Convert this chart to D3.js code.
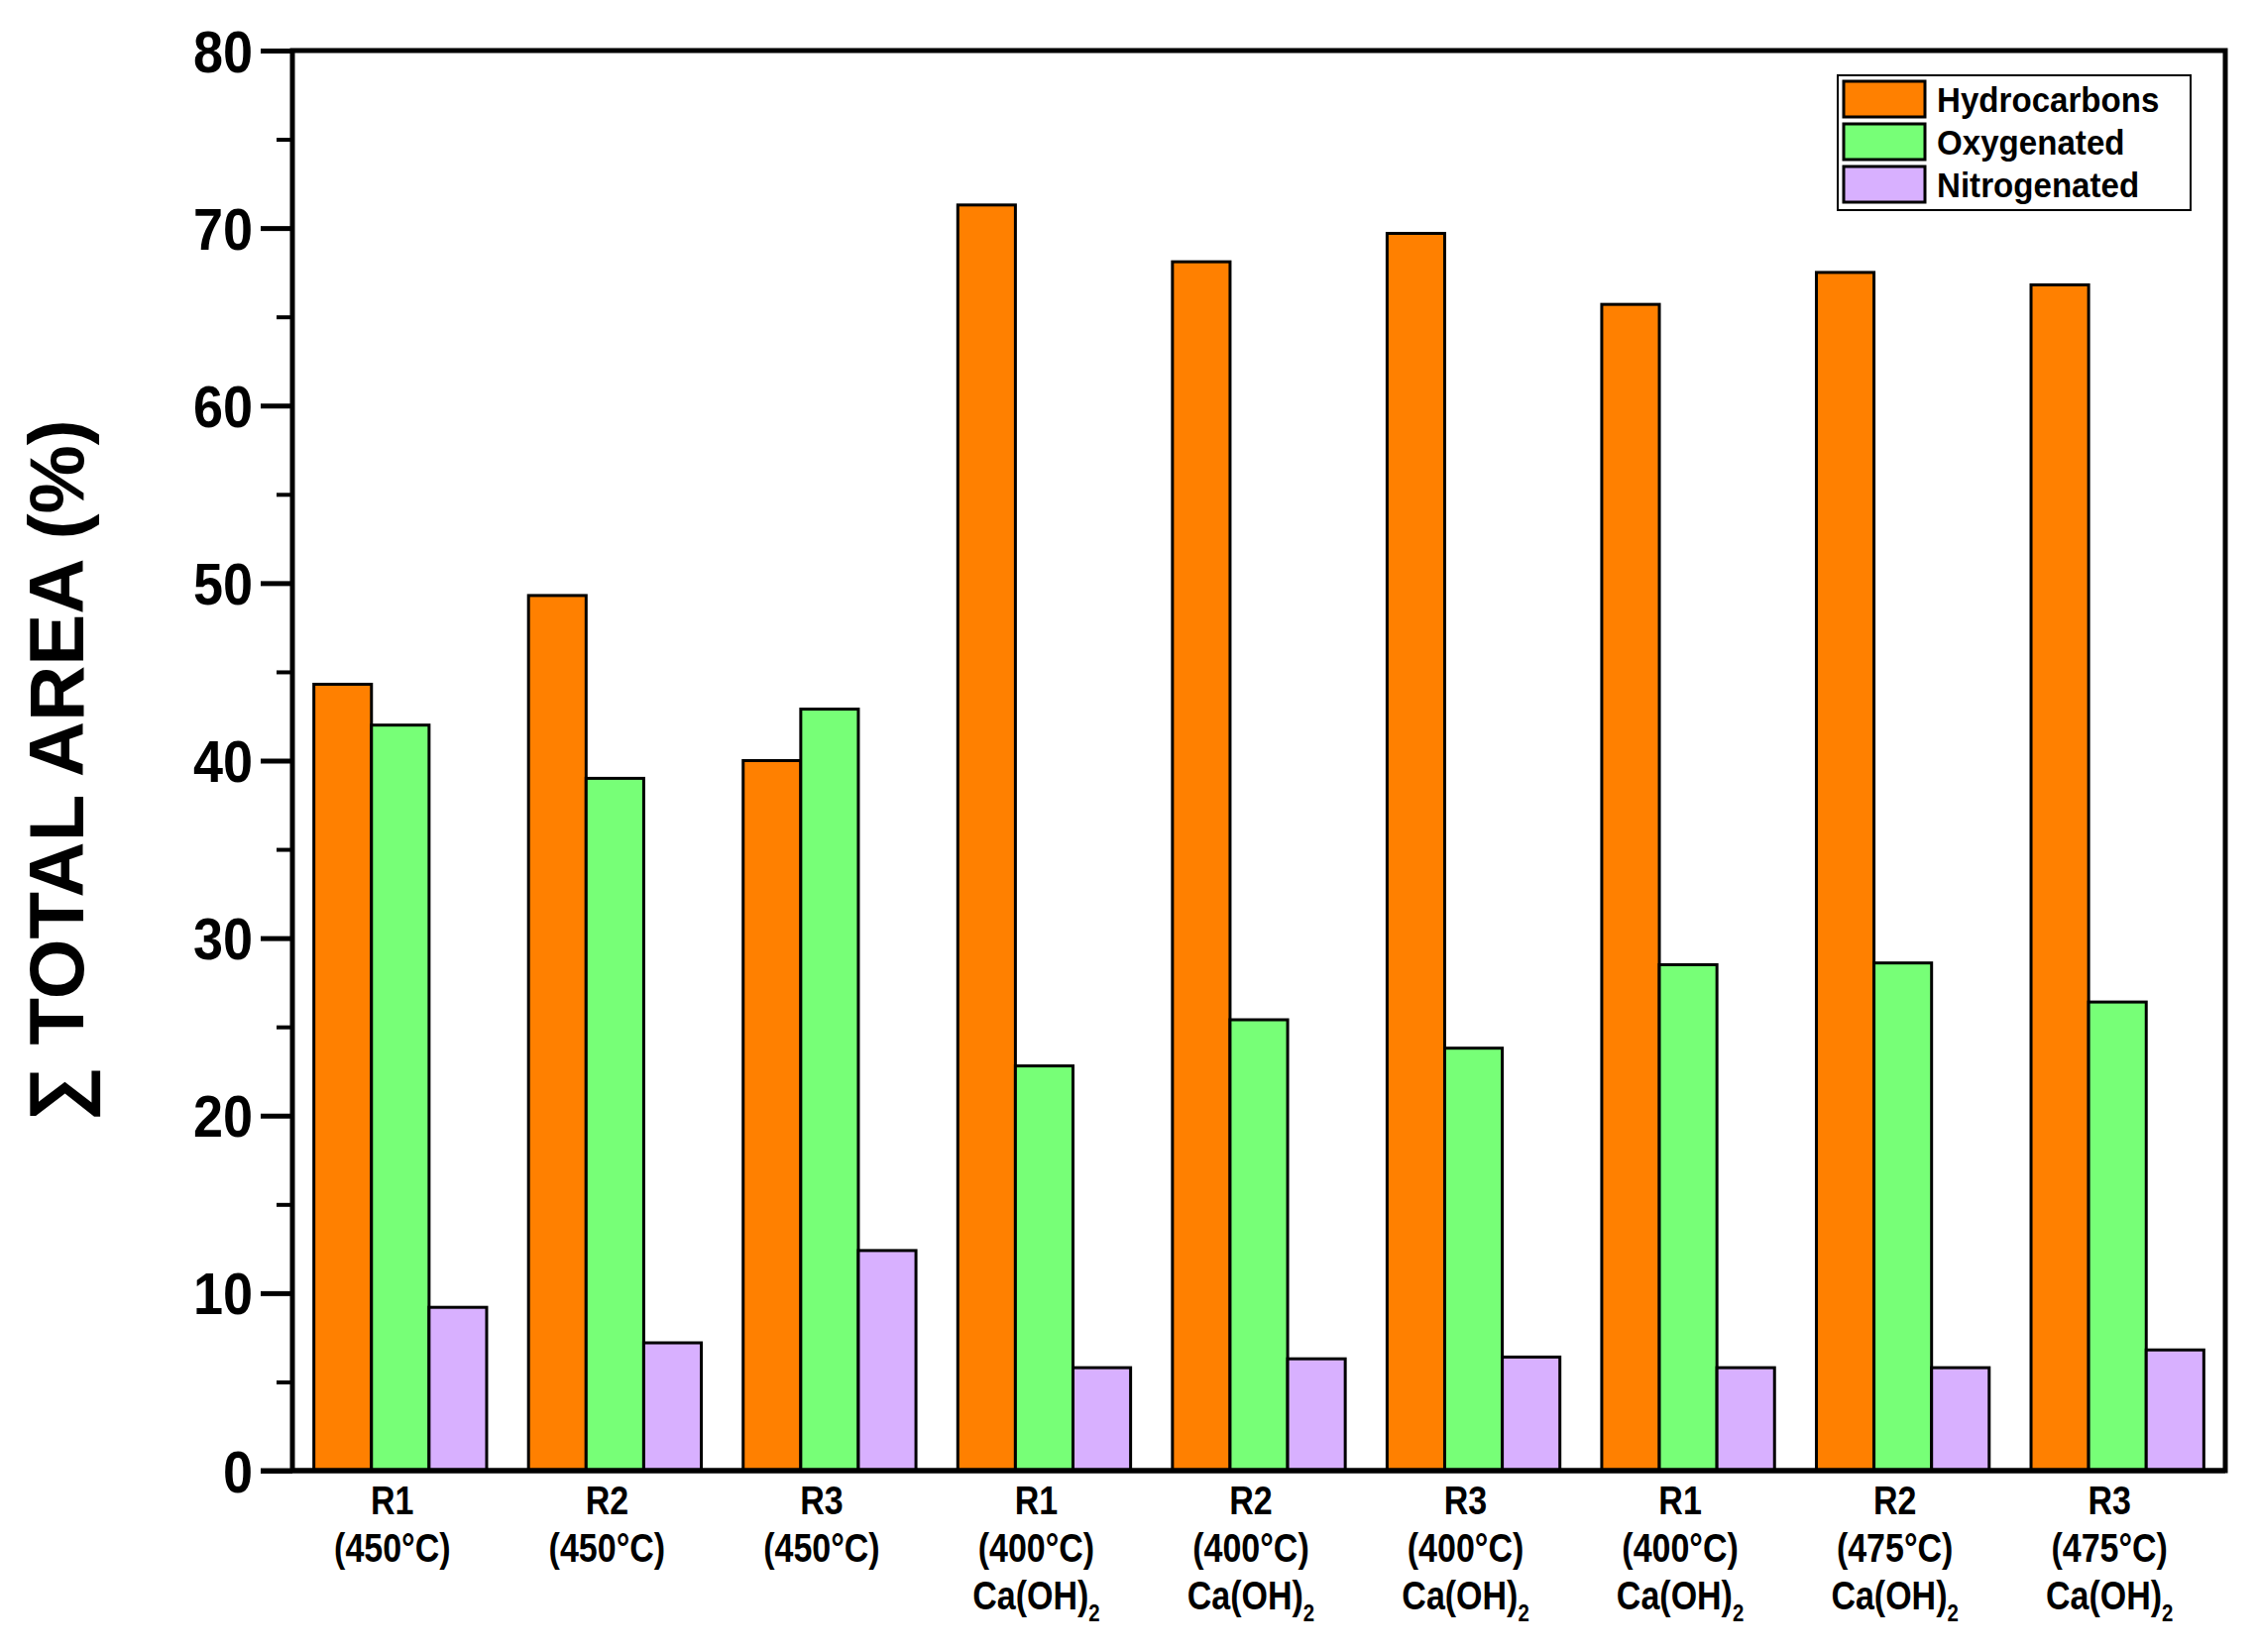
<!DOCTYPE html><html><head><meta charset="utf-8">
<script src="https://cdn.jsdelivr.net/npm/d3@7"></script>
<style>body{margin:0;background:#fff}</style></head><body>
<svg id="c" width="2278" height="1667"></svg>
<script>
const categories=["R1|(450°C)","R2|(450°C)","R3|(450°C)","R1|(400°C)|Ca(OH)2","R2|(400°C)|Ca(OH)2","R3|(400°C)|Ca(OH)2","R1|(400°C)|Ca(OH)2","R2|(475°C)|Ca(OH)2","R3|(475°C)|Ca(OH)2"];
const hydrocarbons=[44.3,49.3,40.0,71.3,68.1,69.7,65.7,67.5,66.8];
const oxygenated=[42.0,39.0,42.9,22.8,25.4,23.8,28.5,28.6,26.4];
const nitrogenated=[9.2,7.2,12.4,5.8,6.3,6.4,5.8,5.8,6.8];
const seriesNames=["Hydrocarbons","Oxygenated","Nitrogenated"];
const colors=["#FF8000","#77FF77","#D8B0FF"];
const yTicks=[0,10,20,30,40,50,60,70,80];
const series=[hydrocarbons,oxygenated,nitrogenated];
const svg=d3.select("#c");
const L=295,R=2245,T=51,B=1484;
const font="'Liberation Sans',Arial,sans-serif";
const x=d3.scaleBand().domain(d3.range(categories.length)).range([L,R]).paddingInner(0.195).paddingOuter(0.1);
const xs=d3.scaleBand().domain(d3.range(3)).range([0,x.bandwidth()]);
const y=d3.scaleLinear().domain([0,80]).range([B,T]);
const g=svg.append("g");
categories.forEach((c,i)=>{series.forEach((s,j)=>{
 g.append("rect").attr("x",x(i)+xs(j)).attr("y",y(s[i])).attr("width",xs.bandwidth()).attr("height",y(0)-y(s[i]))
  .attr("fill",colors[j]).attr("stroke","#000").attr("stroke-width",3);});});
svg.append("rect").attr("x",L).attr("y",T).attr("width",R-L).attr("height",B-T).attr("fill","none").attr("stroke","#000").attr("stroke-width",5);
const ya=d3.axisLeft(y).tickValues(yTicks).tickSize(32).tickPadding(8).tickFormat(d3.format("d"));
const yg=svg.append("g").attr("transform",`translate(${L},0)`).call(ya);
yg.select(".domain").remove();
yg.selectAll("line").attr("stroke-width",5);
yg.selectAll("text").attr("font-family",font).attr("font-weight","bold").attr("font-size",60).attr("dy","0.35em")
  .attr("transform",function(){const tx=+d3.select(this).attr("x");return `translate(${tx},0) scale(0.9,1) translate(${-tx},0)`;});
const ym=d3.axisLeft(y).tickValues(d3.range(5,80,10)).tickSize(16).tickFormat("");
const ymg=svg.append("g").attr("transform",`translate(${L},0)`).call(ym);
ymg.select(".domain").remove();ymg.selectAll("line").attr("stroke-width",4);
svg.append("line").attr("x1",L-32).attr("x2",R).attr("y1",B).attr("y2",B).attr("stroke","#000").attr("stroke-width",5);
categories.forEach((c,i)=>{
 const cx=x(i)+x.bandwidth()/2-8;
 c.split("|").forEach((ln,k)=>{
  const t=svg.append("text").attr("x",cx).attr("y",B+44+k*48).attr("text-anchor","middle")
   .attr("font-family",font).attr("font-weight","bold").attr("font-size",40).attr("transform",`translate(${cx},0) scale(0.85,1) translate(${-cx},0)`);
  if(ln.startsWith("Ca")){t.append("tspan").text("Ca(OH)");t.append("tspan").attr("font-size",24).attr("dy",12).text("2");}
  else t.text(ln);
 });
});
svg.append("text").attr("transform",`translate(84,${(T+B)/2+10}) rotate(-90)`).attr("text-anchor","middle")
 .attr("font-family",font).attr("font-weight","bold").attr("font-size",78).text("∑ TOTAL  AREA (%)");
const lg=svg.append("g").attr("transform","translate(1854,76)");
lg.append("rect").attr("width",356).attr("height",136).attr("fill","#fff").attr("stroke","#000").attr("stroke-width",2);
seriesNames.forEach((n,j)=>{
 lg.append("rect").attr("x",6).attr("y",6+j*43).attr("width",82).attr("height",36).attr("fill",colors[j]).attr("stroke","#000").attr("stroke-width",3);
 lg.append("text").attr("x",100).attr("y",24+j*43).attr("dy","0.35em").attr("font-family",font).attr("font-weight","bold").attr("font-size",36)
  .attr("transform","translate(100,0) scale(0.92,1) translate(-100,0)").text(n);
});
</script></body></html>
